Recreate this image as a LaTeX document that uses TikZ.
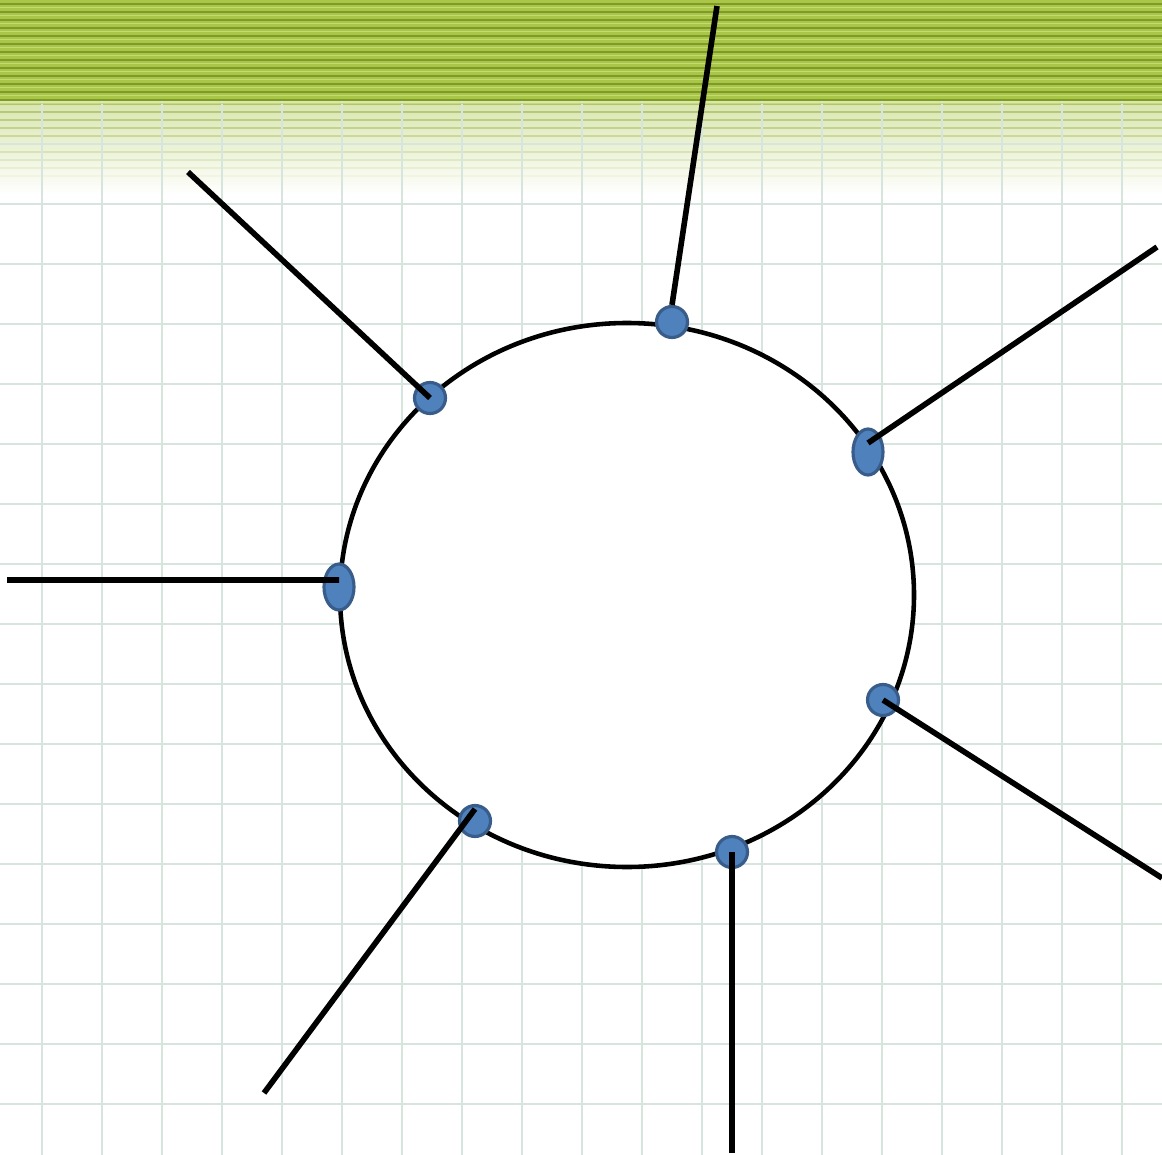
\documentclass[tikz,border=0pt]{standalone}
\usetikzlibrary{shapes.geometric}
\definecolor{bandgreen}{RGB}{170,198,74}
\definecolor{stripedark}{RGB}{126,156,36}
\definecolor{stripelight}{RGB}{198,218,116}
\definecolor{gridgreen}{RGB}{214,230,223}
\definecolor{dotblue}{RGB}{79,129,189}
\definecolor{dotedge}{RGB}{56,93,138}
\tikzset{
  port/.style={circle, fill=dotblue, draw=dotedge, line width=1.8pt, inner sep=0pt, minimum size=0.62cm},
  wport/.style={ellipse, fill=dotblue, draw=dotedge, line width=1.8pt, inner sep=0pt,
      minimum width=0.6cm, minimum height=0.92cm},
  spoke/.style={black, line width=3.2pt},
  ring/.style={black, line width=2.6pt, fill=white},
  gridln/.style={gridgreen, line width=1.2pt},
}

\begin{document}
\begin{tikzpicture}[x=0.02cm,y=-0.02cm]
\useasboundingbox (0,0) rectangle (1162,1155);
% paper
\fill[white] (0,0) rectangle (1162,1155);
\shade[top color=bandgreen!45!white, bottom color=white] (0,100) rectangle (1162,195);
\foreach \y [count=\i] in {104,112,...,184}
  \draw[stripedark, line width=1.2pt, opacity={0.5-\i*0.045}] (0,\y) -- (1162,\y);
\foreach \x in {42,102,...,1122}
  \draw[gridln] (\x,100) -- (\x,1155);
\foreach \y in {144,204,...,1104}
  \draw[gridln] (0,\y) -- (1162,\y);
% top band
\fill[bandgreen] (0,0) rectangle (1162,100);
\foreach \y in {4,12,...,100} {
  \draw[stripedark, line width=1.5pt] (0,\y) -- (1162,\y);
  \draw[stripelight, line width=1pt] (0,\y+3.5) -- (1162,\y+3.5);
}
% hub
\draw[ring] (627,595) ellipse [x radius=287, y radius=272];
\node[port]  (pn)  at (672,322) {};
\node[port]  (pnw) at (430,398) {};
\node[wport] (pne) at (868,452) {};
\node[wport] (pw)  at (339,587) {};
\node[port]  (pse) at (883,700) {};
\node[port]  (psw) at (475,821) {};
\node[port]  (ps)  at (732,852) {};
\coordinate (en)  at (717,6);
\coordinate (enw) at (188,172);
\coordinate (ene) at (1157,247);
\coordinate (ew)  at (7,580);
\coordinate (ese) at (1162,878);
\coordinate (esw) at (264,1093);
\coordinate (es)  at (732,1153);
% spokes
\draw[spoke] (en) -- (pn.north);
\draw[spoke] (enw) -- (pnw.center);
\draw[spoke] (ene) -- ([yshift=0.18cm]pne.center);
\draw[spoke] (ew) -- ([yshift=0.14cm]pw.center);
\draw[spoke] (ese) -- (pse.center);
\draw[spoke] (esw) -- ([yshift=0.24cm]psw.center);
\draw[spoke] (es) -- (ps.center);
\end{tikzpicture}
\end{document}
